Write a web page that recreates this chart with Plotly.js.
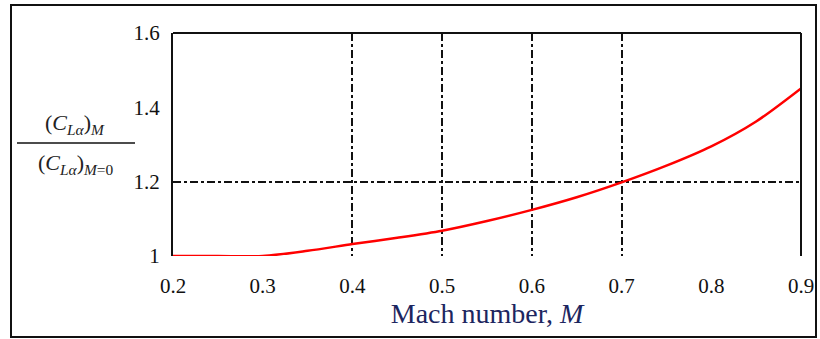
<!DOCTYPE html>
<html>
<head>
<meta charset="utf-8">
<script src="https://cdn.plot.ly/plotly-3.0.1.min.js"></script>
<style>html,body{margin:0;padding:0;background:#fff;}#chart{width:820px;height:339px;}</style>
</head>
<body>
<div id="chart"></div>
<script>
// Data
const machNumbers = [0.2, 0.25, 0.3, 0.35, 0.4, 0.45, 0.5, 0.55, 0.6, 0.65, 0.7, 0.75, 0.8, 0.85, 0.9];
const liftSlopeRatio = [1.0, 1.0, 1.0, 1.014, 1.032, 1.049, 1.068, 1.094, 1.124, 1.158, 1.198, 1.243, 1.295, 1.362, 1.451];
const xTickVals = [0.2, 0.3, 0.4, 0.5, 0.6, 0.7, 0.8, 0.9];
const xTickText = ["0.2", "0.3", "0.4", "0.5", "0.6", "0.7", "0.8", "0.9"];
const yTickVals = [1, 1.2, 1.4, 1.6];
const yTickText = ["1", "1.2", "1.4", "1.6"];
const xGridVals = [0.4, 0.5, 0.6, 0.7];
const yGridVals = [1.2];

const serif = "Liberation Serif";

const trace = {
  x: machNumbers,
  y: liftSlopeRatio,
  type: "scatter",
  mode: "lines",
  line: {color: "#ff0000", width: 2.5, shape: "spline", smoothing: 0.8},
  hoverinfo: "skip",
  showlegend: false
};

const layout = {
  width: 820,
  height: 339,
  margin: {l: 173, r: 19, t: 33, b: 83},
  paper_bgcolor: "#ffffff",
  plot_bgcolor: "#ffffff",
  showlegend: false,
  xaxis: {
    range: [0.2, 0.9],
    tickmode: "array",
    tickvals: xTickVals,
    ticktext: xTickText,
    ticks: "outside",
    ticklen: 11,
    tickcolor: "rgba(255,255,255,0)",
    showgrid: false,
    zeroline: false,
    showline: false,
    tickfont: {family: serif, size: 21, color: "#111111"},
    minor: {tickmode: "array", tickvals: xGridVals, showgrid: true, gridcolor: "#111111", gridwidth: 2, griddash: "8px,3px,3px,3px", ticks: ""},
    title: {text: "Mach number, <i>M</i>", font: {family: serif, size: 28, color: "#1c2660"}, standoff: 4},
    fixedrange: true
  },
  yaxis: {
    range: [1, 1.6],
    tickmode: "array",
    tickvals: yTickVals,
    ticktext: yTickText,
    ticks: "outside",
    ticklen: 7,
    tickcolor: "rgba(255,255,255,0)",
    showgrid: false,
    zeroline: false,
    showline: true,
    linecolor: "#111111",
    linewidth: 2,
    tickfont: {family: serif, size: 21, color: "#111111"},
    minor: {tickmode: "array", tickvals: yGridVals, showgrid: true, gridcolor: "#111111", gridwidth: 2, griddash: "8px,3px,3px,3px", ticks: ""},
    fixedrange: true
  },
  shapes: [
    // top and right frame of the plot area
    {type: "line", xref: "paper", yref: "paper", x0: 0, x1: 1, y0: 1, y1: 1, line: {color: "#111111", width: 2}},
    {type: "line", xref: "paper", yref: "paper", x0: 1, x1: 1, y0: 0, y1: 1, line: {color: "#111111", width: 2}},
    // outer border of the figure
    {type: "rect", xref: "paper", yref: "paper", x0: -162/628, x1: 1 + 15/628, y0: -81/223, y1: 1 + 28/223, line: {color: "#111111", width: 2}, fillcolor: "rgba(0,0,0,0)"},
    // fraction bar of the y-axis label
    {type: "line", xref: "paper", yref: "paper", x0: -156/628, x1: -38/628, y0: (256-143)/223, y1: (256-143)/223, line: {color: "#111111", width: 1.5}}
  ],
  annotations: [
    {xref: "paper", yref: "paper", x: -98/628, y: (256-124)/223, xanchor: "center", yanchor: "middle", showarrow: false,
     text: "(<i>C</i><sub><i>Lα</i></sub>)<sub><i>M</i></sub>", font: {family: serif, size: 22, color: "#222222"}},
    {xref: "paper", yref: "paper", x: -98/628, y: (256-164)/223, xanchor: "center", yanchor: "middle", showarrow: false,
     text: "(<i>C</i><sub><i>Lα</i></sub>)<sub><i>M</i>=0</sub>", font: {family: serif, size: 22, color: "#222222"}}
  ]
};

Plotly.newPlot("chart", [trace], layout, {staticPlot: true, displayModeBar: false});
</script>
</body>
</html>
